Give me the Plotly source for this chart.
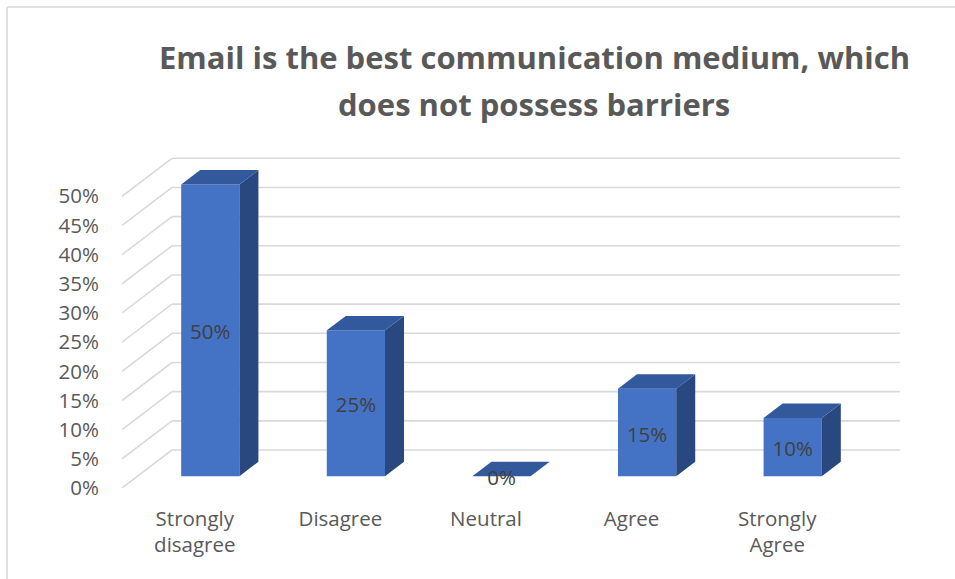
import plotly.graph_objects as go

# Survey responses
categories = ["Strongly disagree", "Disagree", "Neutral", "Agree", "Strongly Agree"]
tick_text = ["Strongly<br>disagree", "Disagree", "Neutral", "Agree", "Strongly<br>Agree"]
shares = [0.50, 0.25, 0.00, 0.15, 0.10]
y_ticks = [0.00, 0.05, 0.10, 0.15, 0.20, 0.25, 0.30, 0.35, 0.40, 0.45, 0.50]

TITLE_1 = "Email is the best communication medium, which"
TITLE_2 = "does not possess barriers"

# ---- layout geometry (pixels) ----
W, H = 955, 579
ML, MR, MT, MB = 122, 55, 155, 91
PLOT_W = W - ML - MR
PLOT_H = H - MT - MB
PX_PER_CAT = 145.6
PX_PER_UNIT = 583.4          # pixels per 100 %

# oblique projection of the depth axis, in data units
DX = 50 / PX_PER_CAT
DY = 38 / PX_PER_UNIT
F0, F1 = 0.31, 0.69          # front / back plane of the bars (fraction of depth)
BAR_W = 0.40
LABEL_NUDGE = 4 / PX_PER_UNIT   # value labels sit a few pixels below bar centre

FRONT = "#4472C4"
TOP = "#32599B"
SIDE = "#2A4880"
GRID = "#D9D9D9"
FONT = "Open Sans"
LABEL_SIZE = 20.5

x_pos = list(range(len(categories)))

fig = go.Figure()

# front faces
fig.add_trace(go.Bar(
    x=[i + F0 * DX for i in x_pos],
    y=shares,
    base=F0 * DY,
    width=BAR_W,
    marker=dict(color=FRONT, line=dict(width=0)),
    hoverinfo="skip",
    showlegend=False,
))

# top and side faces
dxx = (F1 - F0) * DX
dyy = (F1 - F0) * DY
for i, v in zip(x_pos, shares):
    xl = i + F0 * DX - BAR_W / 2
    xr = i + F0 * DX + BAR_W / 2
    b = F0 * DY
    fig.add_trace(go.Scatter(
        x=[xr, xr, xr + dxx, xr + dxx, xr],
        y=[b, b + v, b + v + dyy, b + dyy, b],
        fill="toself", fillcolor=SIDE, mode="lines", line=dict(width=0),
        hoverinfo="skip", showlegend=False,
    ))
    fig.add_trace(go.Scatter(
        x=[xl, xr, xr + dxx, xl + dxx, xl],
        y=[b + v, b + v, b + v + dyy, b + v + dyy, b + v],
        fill="toself", fillcolor=TOP, mode="lines", line=dict(width=0),
        hoverinfo="skip", showlegend=False,
    ))

# value labels
fig.add_trace(go.Scatter(
    x=[i + F0 * DX for i in x_pos],
    y=[F0 * DY + v / 2 - LABEL_NUDGE for v in shares],
    text=[f"{v:.0%}" for v in shares],
    mode="text",
    textposition="middle center",
    textfont=dict(family=FONT, size=LABEL_SIZE, color="#404040"),
    cliponaxis=False,
    hoverinfo="skip",
    showlegend=False,
))

# back wall and floor gridlines
shapes = []
x_left = -0.5
x_right = len(categories) - 0.5
for t in y_ticks:
    shapes.append(dict(type="line", xref="x", yref="y", layer="below",
                       x0=x_left + DX, y0=t + DY, x1=x_right + DX, y1=t + DY,
                       line=dict(color=GRID, width=1.6)))
    shapes.append(dict(type="line", xref="x", yref="y", layer="below",
                       x0=x_left, y0=t, x1=x_left + DX, y1=t + DY,
                       line=dict(color=GRID, width=1.6)))


def px_x(p):
    return (p - ML) / PLOT_W


def px_y(p):
    return (H - MB - p) / PLOT_H


# chart frame (top and left edges)
shapes.append(dict(type="line", xref="paper", yref="paper",
                   x0=px_x(7), y0=px_y(7), x1=px_x(W + 5), y1=px_y(7),
                   line=dict(color=GRID, width=1.6)))
shapes.append(dict(type="line", xref="paper", yref="paper",
                   x0=px_x(7), y0=px_y(7), x1=px_x(7), y1=px_y(H + 5),
                   line=dict(color=GRID, width=1.6)))

title_font = dict(family=FONT, size=31, color="#595959", weight="bold")
annotations = [
    dict(text=TITLE_1, xref="paper", yref="paper", x=px_x(534), y=px_y(57),
         xanchor="center", yanchor="middle", showarrow=False, font=title_font),
    dict(text=TITLE_2, xref="paper", yref="paper", x=px_x(534), y=px_y(104),
         xanchor="center", yanchor="middle", showarrow=False, font=title_font),
]

fig.update_layout(
    width=W, height=H,
    margin=dict(l=ML, r=MR, t=MT, b=MB, pad=0),
    paper_bgcolor="white", plot_bgcolor="white",
    shapes=shapes, annotations=annotations,
    barmode="overlay",
    xaxis=dict(
        range=[-0.5, -0.5 + PLOT_W / PX_PER_CAT],
        tickvals=x_pos, ticktext=tick_text,
        showgrid=False, zeroline=False, showline=False, ticks="",
        ticklabelstandoff=16,
        tickfont=dict(family=FONT, size=LABEL_SIZE, color="#595959"),
        fixedrange=True,
    ),
    yaxis=dict(
        range=[0, PLOT_H / PX_PER_UNIT],
        tickvals=y_ticks, tickformat=".0%",
        showgrid=False, zeroline=False, showline=False, ticks="",
        ticklabelstandoff=22,
        tickfont=dict(family=FONT, size=LABEL_SIZE, color="#595959"),
        fixedrange=True,
    ),
)

fig.write_html("out.html", config={"displayModeBar": False})
